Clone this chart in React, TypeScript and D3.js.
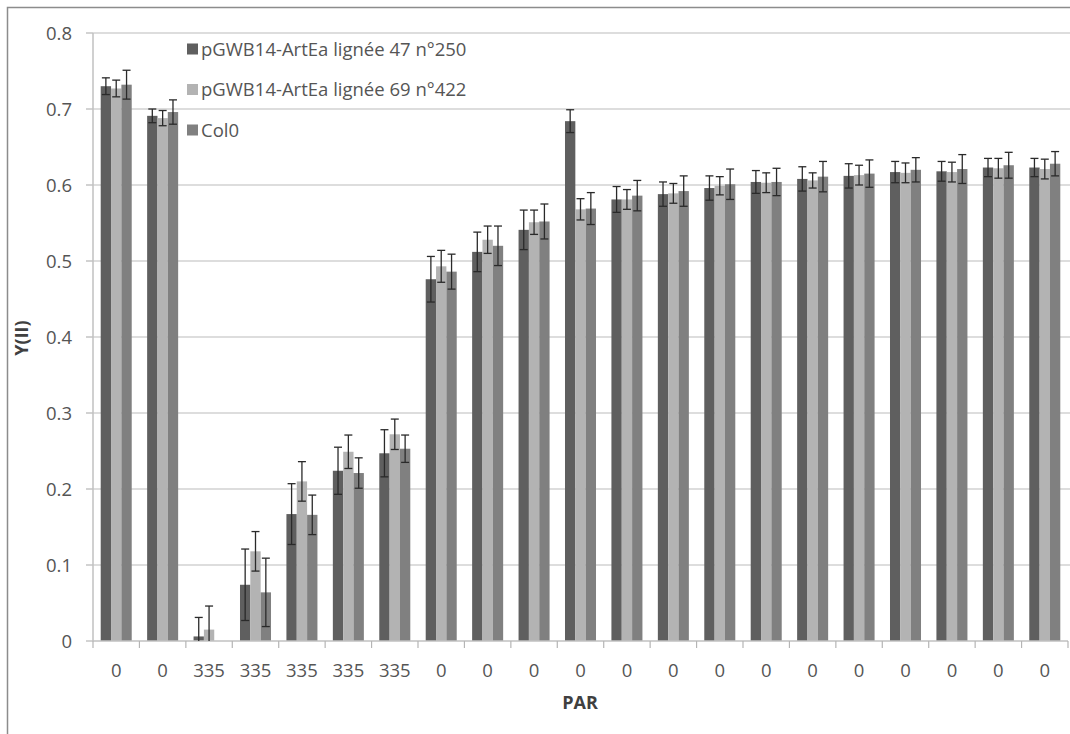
import React from "react";
import * as d3 from "d3";

const categories = ["0", "0", "335", "335", "335", "335", "335", "0", "0", "0", "0", "0", "0", "0", "0", "0", "0", "0", "0", "0", "0"];
const seriesNames = ["pGWB14-ArtEa lignée 47 n°250", "pGWB14-ArtEa lignée 69 n°422", "Col0"];
const seriesColors = ["#5f5f5f", "#b3b3b3", "#808080"];

const line47 = [0.730, 0.691, 0.006, 0.074, 0.167, 0.224, 0.247, 0.476, 0.512, 0.541, 0.684, 0.581, 0.588, 0.596, 0.604, 0.608, 0.612, 0.617, 0.618, 0.623, 0.623];
const line47Err = [0.011, 0.009, 0.025, 0.047, 0.040, 0.031, 0.031, 0.030, 0.026, 0.026, 0.015, 0.017, 0.016, 0.016, 0.015, 0.016, 0.016, 0.014, 0.013, 0.012, 0.012];
const line69 = [0.727, 0.688, 0.015, 0.118, 0.210, 0.249, 0.272, 0.493, 0.528, 0.551, 0.568, 0.581, 0.589, 0.599, 0.603, 0.606, 0.613, 0.616, 0.617, 0.622, 0.621];
const line69Err = [0.011, 0.010, 0.031, 0.026, 0.026, 0.022, 0.020, 0.021, 0.018, 0.016, 0.014, 0.013, 0.013, 0.012, 0.013, 0.010, 0.013, 0.013, 0.013, 0.013, 0.013];
const col0 = [0.732, 0.696, 0, 0.064, 0.166, 0.221, 0.253, 0.486, 0.520, 0.552, 0.569, 0.586, 0.592, 0.601, 0.604, 0.611, 0.615, 0.620, 0.621, 0.626, 0.628];
const col0Err = [0.019, 0.016, 0, 0.045, 0.026, 0.020, 0.018, 0.023, 0.026, 0.023, 0.021, 0.020, 0.020, 0.020, 0.018, 0.020, 0.018, 0.016, 0.019, 0.017, 0.016];

const yTicks = [0, 0.1, 0.2, 0.3, 0.4, 0.5, 0.6, 0.7, 0.8];

const values = [line47, line69, col0];
const errors = [line47Err, line69Err, col0Err];

const FONT = "'Open Sans', sans-serif";
const TEXT = "#555555";

export default function App() {
  const left = 93, right = 1068, top = 33, bottom = 641;
  const idx = categories.map((_, i) => String(i));
  const x0 = d3.scaleBand<string>().domain(idx).range([left, right]).paddingInner(0.332).paddingOuter(0.166);
  const step = (right - left) / categories.length;
  const x1 = d3.scaleBand<number>().domain([0, 1, 2]).range([0, x0.bandwidth()]).padding(0);
  const y = d3.scaleLinear().domain([0, 0.8]).range([bottom, top]);

  return (
    <svg width={1070} height={734} style={{ position: "absolute", left: 0, top: 0, background: "#fff" }}>
      <rect x={7.5} y={7.5} width={1100} height={800} fill="#fff" stroke="#8c8c8c" strokeWidth={1.5} />
      {yTicks.map((t) => (
        <g key={"g" + t}>
          {t > 0 && <line x1={left} x2={right + 2} y1={y(t)} y2={y(t)} stroke="#d2d2d2" strokeWidth={1.5} />}
          <line x1={left - 7} x2={left} y1={y(t)} y2={y(t)} stroke="#b5b5b5" strokeWidth={1.2} />
          <text x={72} y={y(t)} dy="0.36em" textAnchor="end" fontFamily={FONT} fontSize={18.5} fill={TEXT}>
            {t === 0 ? "0" : t.toFixed(1)}
          </text>
        </g>
      ))}
      <line x1={left} x2={left} y1={top} y2={bottom} stroke="#c0c0c0" strokeWidth={1.5} />
      {values.map((vals, s) =>
        vals.map((v, i) => {
          const bx = (x0(String(i)) as number) + (x1(s) as number);
          const bw = x1.bandwidth();
          return v > 0 ? (
            <rect key={`b${s}-${i}`} x={bx} y={y(v)} width={bw} height={y(0) - y(v)} fill={seriesColors[s]} />
          ) : null;
        })
      )}
      <line x1={left} x2={right} y1={bottom} y2={bottom} stroke="#c0c0c0" strokeWidth={1.5} />
      {d3.range(categories.length + 1).map((i) => (
        <line key={"xt" + i} x1={left + i * step} x2={left + i * step} y1={bottom} y2={bottom + 7} stroke="#b5b5b5" strokeWidth={1.2} />
      ))}
      {values.map((vals, s) =>
        vals.map((v, i) => {
          const e = errors[s][i];
          if (e <= 0) return null;
          const cx = (x0(String(i)) as number) + (x1(s) as number) + x1.bandwidth() / 2;
          const hi = y(v + e);
          const lo = y(Math.max(0, v - e));
          return (
            <g key={`e${s}-${i}`} stroke="#2a2a2a" strokeWidth={1.3}>
              <line x1={cx} x2={cx} y1={hi} y2={lo} />
              <line x1={cx - 4} x2={cx + 4} y1={hi} y2={hi} />
              {v - e > 0 && <line x1={cx - 4} x2={cx + 4} y1={lo} y2={lo} />}
            </g>
          );
        })
      )}
      {categories.map((c, i) => (
        <text key={"xl" + i} x={(x0(String(i)) as number) + x0.bandwidth() / 2} y={670} dy="0.36em" textAnchor="middle" fontFamily={FONT} fontSize={18.5} fill={TEXT}>
          {c}
        </text>
      ))}
      <text x={580} y={703} dy="0.36em" textAnchor="middle" fontFamily={FONT} fontSize={18} fontWeight="bold" fill="#404040">PAR</text>
      <text transform="translate(22,338) rotate(-90)" dy="0.36em" textAnchor="middle" fontFamily={FONT} fontSize={18} fontWeight="bold" fill="#404040">Y(II)</text>
      {seriesNames.map((n, s) => (
        <g key={"lg" + s} transform={`translate(187,${49 + s * 40.5})`}>
          <rect x={0} y={-5.5} width={11} height={11} fill={seriesColors[s]} />
          <text x={14} y={0} dy="0.36em" fontFamily={FONT} fontSize={18.5} fill={TEXT}>{n}</text>
        </g>
      ))}
    </svg>
  );
}
